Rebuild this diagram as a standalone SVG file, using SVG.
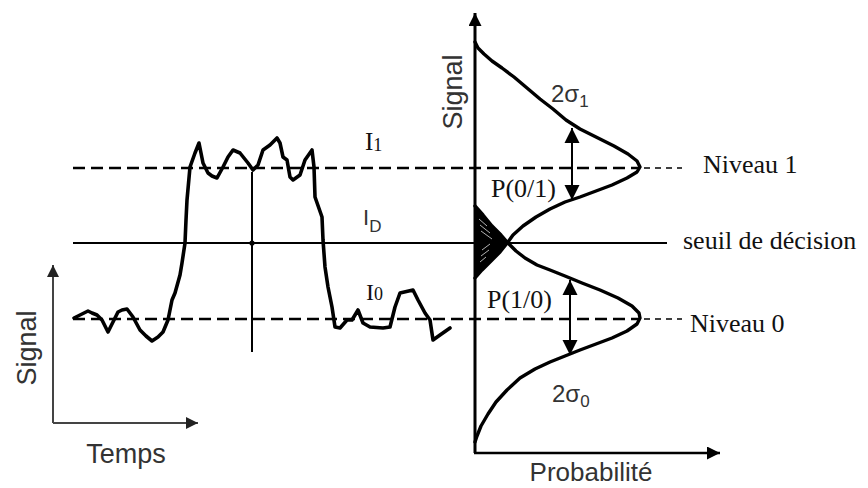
<svg xmlns="http://www.w3.org/2000/svg" width="868" height="488" viewBox="0 0 868 488">
<defs>
<style>
.sans{font-family:"Liberation Sans",Arial,sans-serif;fill:#333}
.serif{font-family:"Liberation Serif","Times New Roman",serif;fill:#111}
.wave{fill:none;stroke:#000;stroke-width:3.6;stroke-linejoin:round;stroke-linecap:round}
.curve{fill:none;stroke:#000;stroke-width:3.4;stroke-linejoin:round;stroke-linecap:round}
.dash{stroke:#000;stroke-width:2.4;stroke-dasharray:12 6;fill:none}
.dashthin{stroke:#000;stroke-width:1.3;stroke-dasharray:6 5;fill:none}
</style>
<marker id="ah" viewBox="0 0 10 10" refX="10" refY="5" markerWidth="15" markerHeight="16" markerUnits="userSpaceOnUse" orient="auto-start-reverse">
<path d="M0,0 L10,5 L0,10 z" fill="#000"/>
</marker>
<marker id="axr" viewBox="0 0 10 10" refX="10" refY="5" markerWidth="14" markerHeight="13" markerUnits="userSpaceOnUse" orient="auto">
<path d="M0,0 L10,5 L0,10 z" fill="#000"/>
</marker>
<marker id="axl" viewBox="0 0 10 10" refX="10" refY="5" markerWidth="14" markerHeight="12" markerUnits="userSpaceOnUse" orient="auto">
<path d="M0,0 L10,5 L0,10 z" fill="#222"/>
</marker>
</defs>
<rect width="868" height="488" fill="#fff"/>

<g id="connectors">
<line x1="53" y1="423" x2="53" y2="265" stroke="#444" stroke-width="2" marker-end="url(#axl)"/>
<line x1="53" y1="423" x2="198" y2="423" stroke="#444" stroke-width="2" marker-end="url(#axl)"/>
<line class="dash" x1="73" y1="168" x2="640" y2="168"/>
<line class="dashthin" x1="644" y1="168" x2="682" y2="168"/>
<line x1="73" y1="243" x2="667" y2="243" stroke="#000" stroke-width="2.2"/>
<line class="dash" x1="73" y1="319" x2="640" y2="319"/>
<line class="dashthin" x1="644" y1="319" x2="682" y2="319"/>
<line x1="252" y1="172" x2="252" y2="352" stroke="#000" stroke-width="2"/>
<circle cx="252" cy="243" r="2.6" fill="#000"/>
<line x1="475" y1="453" x2="475" y2="13" stroke="#000" stroke-width="3" marker-end="url(#axr)"/>
<line x1="474" y1="453" x2="720" y2="453" stroke="#000" stroke-width="2.6" marker-end="url(#axr)"/>
<line x1="572" y1="128" x2="572" y2="200" stroke="#000" stroke-width="2" marker-start="url(#ah)" marker-end="url(#ah)"/>
<line x1="570" y1="280" x2="570" y2="355" stroke="#000" stroke-width="2" marker-start="url(#ah)" marker-end="url(#ah)"/>
</g>

<g id="waveform">
<polyline class="wave" points="74,318 80,315 88,311 92,313 97,315 102,320 108,332 113,322 118,312 122,310 127,309 133,317 140,330 146,336 152,341 158,337 163,332 168,320 172,300 175,293 180,275 182,263 185,243 186,220 187,200 190,167 195,153 199,143 203,163 208,173 212,176 217,178 223,167 228,157 233,150 240,153 248,163 253,170 258,165 263,150 270,145 277,138 280,143 283,157 287,160 290,177 293,180 300,175 305,160 312,150 314,167 315,197 322,217 323,240 325,267 328,287 332,307 335,327 340,328 347,320 352,320 358,310 363,323 370,327 383,328 390,327 395,307 400,293 413,290 418,300 425,313 430,320 433,340 440,335 450,328"/>
</g>

<g id="distribution-1">
<polyline class="curve" points="475,42 478,48 484,54 492,61 502,68 514,77 527,88 540,99 553,109 566,120 580,129 596,137 614,146 628,154 637,161 640,167 637,172 627,178 612,185 596,191 580,197 565,202 550,209 536,217 523,226 513,235 508,242 500,252 490,262 482,270 475,278"/>
</g>
<g id="distribution-0">
<polyline class="curve" points="475,206 483,215 492,226 501,235 508,243 516,251 525,258 537,265 550,270 565,276 582,283 600,290 618,298 632,306 639,313 640,318 637,324 627,331 612,338 596,344 580,350 565,356 550,362 535,369 520,378 507,390 496,402 488,414 481,426 477,436 475,442"/>
</g>
<g id="overlap">
<polygon points="475,206 483,215 492,226 501,235 508,243 500,252 490,262 482,270 475,278" fill="#000"/>
<g stroke="#fff" stroke-width="0.7">
<line x1="479" y1="219" x2="487" y2="226"/>
<line x1="480" y1="225" x2="490" y2="233"/>
<line x1="481" y1="231" x2="492" y2="239"/>
<line x1="482" y1="250" x2="490" y2="244"/>
<line x1="481" y1="256" x2="489" y2="250"/>
<line x1="480" y1="262" x2="486" y2="257"/>
</g>
</g>

<g id="labels">
<text class="sans" font-size="27" transform="translate(36,348) rotate(-90)" text-anchor="middle">Signal</text>
<text class="sans" font-size="27" x="126" y="463" text-anchor="middle">Temps</text>
<text class="sans" font-size="27" transform="translate(462,92) rotate(-90)" text-anchor="middle">Signal</text>
<text class="sans" font-size="26" x="591" y="481" text-anchor="middle">Probabilité</text>
<text class="serif" font-size="25" x="365" y="150">I<tspan font-size="18" dy="1">1</tspan></text>
<text class="sans" font-size="22" x="363" y="225">I<tspan font-size="17" dy="7">D</tspan></text>
<text class="serif" font-size="24" x="366" y="300">I<tspan font-size="18" dy="0">0</tspan></text>
<text class="serif" font-size="26" x="703" y="173">Niveau 1</text>
<text class="serif" font-size="26" x="683" y="249">seuil de décision</text>
<text class="serif" font-size="26" x="690" y="332">Niveau 0</text>
<text class="serif" font-size="26" x="491" y="197">P(0/1)</text>
<text class="serif" font-size="26" x="487" y="308">P(1/0)</text>
<text class="sans" font-size="24" x="551" y="102">2σ<tspan font-size="17" dy="5">1</tspan></text>
<text class="sans" font-size="24" x="552" y="402">2σ<tspan font-size="17" dy="5">0</tspan></text>
</g>
</svg>
